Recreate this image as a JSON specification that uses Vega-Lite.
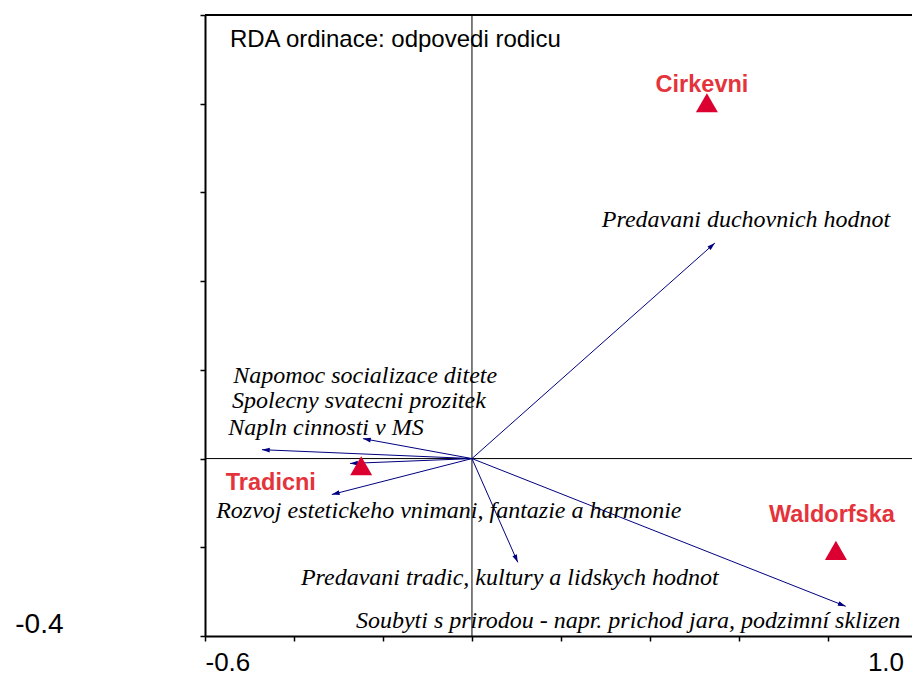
{
  "$schema": "https://vega.github.io/schema/vega-lite/v6.json",
  "width": 707,
  "height": 621,
  "autosize": {"type": "none"},
  "padding": {"left": 205, "top": 15, "right": 0, "bottom": 39},
  "background": "white",
  "config": {"view": {"stroke": null}},
  "datasets": {
    "loadings": [
      {"name": "Predavani duchovnich hodnot", "x": 0.546, "y": 0.486, "lx": 0.616, "ly": 0.523},
      {"name": "Napomoc socializace ditete", "x": -0.274, "y": -0.011, "lx": -0.240, "ly": 0.171},
      {"name": "Spolecny svatecni prozitek", "x": -0.245, "y": 0.045, "lx": -0.254, "ly": 0.113},
      {"name": "Napln cinnosti v MS", "x": -0.472, "y": 0.020, "lx": -0.328, "ly": 0.054},
      {"name": "Rozvoj estetickeho vnimani, fantazie a harmonie", "x": -0.315, "y": -0.081, "lx": -0.052, "ly": -0.133},
      {"name": "Predavani tradic, kultury a lidskych hodnot", "x": 0.103, "y": -0.234, "lx": 0.085, "ly": -0.284},
      {"name": "Soubyti s prirodou - napr. prichod jara, podzimní sklizen", "x": 0.840, "y": -0.333, "lx": 0.351, "ly": -0.381}
    ],
    "centroids": [
      {"name": "Cirkevni", "x": 0.528, "y": 0.802, "lx": 0.517, "ly": 0.827},
      {"name": "Tradicni", "x": -0.249, "y": -0.016, "lx": -0.452, "ly": -0.070},
      {"name": "Waldorfska", "x": 0.818, "y": -0.207, "lx": 0.809, "ly": -0.144}
    ],
    "one": [{"title": "RDA ordinace: odpovedi rodicu"}]
  },
  "encoding": {
    "x": {
      "type": "quantitative",
      "scale": {"domain": [-0.6, 0.989], "nice": false, "zero": false},
      "axis": {
        "title": null,
        "grid": false,
        "values": [-0.6, -0.4, -0.2, 0, 0.2, 0.4, 0.6, 0.8, 0.97],
        "labelExpr": "datum.value < -0.5 ? '-0.6' : datum.value > 0.9 ? '1.0' : ''",
        "labelAlign": {"condition": {"test": "datum.value > 0.9", "value": "right"}, "value": "left"},
        "tickOpacity": {"condition": {"test": "datum.value > 0.9", "value": 0}, "value": 1},
        "labelFlush": false,
        "labelOverlap": false,
        "labelBound": false,
        "labelBaseline": "alphabetic",
        "domainColor": "black",
        "domainWidth": 2,
        "tickColor": "black",
        "tickWidth": 1.5,
        "tickSize": 5,
        "labelFont": "Liberation Sans",
        "labelFontSize": 26,
        "labelColor": "black",
        "labelPadding": 29
      }
    },
    "y": {
      "type": "quantitative",
      "scale": {"domain": [-0.4, 1.0], "nice": false, "zero": false},
      "axis": {
        "title": null,
        "grid": false,
        "values": [-0.4, -0.2, 0, 0.2, 0.4, 0.6, 0.8, 1.0],
        "labelExpr": "datum.value < -0.3 ? '-0.4' : ''",
        "labelFlush": false,
        "labelOverlap": false,
        "labelBound": false,
        "labelBaseline": "alphabetic",
        "labelOffset": -4,
        "domainColor": "black",
        "domainWidth": 2,
        "tickColor": "black",
        "tickWidth": 1.5,
        "tickSize": 5,
        "labelFont": "Liberation Sans",
        "labelFontSize": 28,
        "labelColor": "black",
        "labelPadding": 137
      }
    }
  },
  "layer": [
    {
      "data": {"name": "one"},
      "mark": {"type": "rule", "color": "black", "strokeWidth": 2},
      "encoding": {"y": {"datum": 1.0}}
    },
    {
      "data": {"name": "one"},
      "mark": {"type": "rule", "color": "black", "strokeWidth": 1},
      "encoding": {"x": {"datum": 0}}
    },
    {
      "data": {"name": "one"},
      "mark": {"type": "rule", "color": "black", "strokeWidth": 1},
      "encoding": {"y": {"datum": 0}}
    },
    {
      "data": {"name": "loadings"},
      "mark": {"type": "rule", "color": "#000080", "strokeWidth": 1},
      "encoding": {
        "x": {"field": "x"},
        "y": {"field": "y"},
        "x2": {"datum": 0},
        "y2": {"datum": 0}
      }
    },
    {
      "data": {"name": "loadings"},
      "transform": [{"calculate": "atan2(datum.x, datum.y) * 180 / PI", "as": "ang"}],
      "mark": {"type": "point", "filled": true, "opacity": 1, "color": "#000080", "shape": "M0,0L-0.8,2.6L0.8,2.6Z", "size": 36},
      "encoding": {
        "x": {"field": "x"},
        "y": {"field": "y"},
        "angle": {"field": "ang", "type": "quantitative", "scale": null}
      }
    },
    {
      "data": {"name": "centroids"},
      "mark": {"type": "point", "filled": true, "opacity": 1, "color": "#DC0030", "shape": "triangle-up", "size": 484},
      "encoding": {
        "x": {"field": "x"},
        "y": {"field": "y"}
      }
    },
    {
      "data": {"name": "centroids"},
      "mark": {"type": "text", "font": "Liberation Sans", "fontWeight": "bold", "fontSize": 23.5, "color": "#E5333B", "align": "center", "baseline": "alphabetic"},
      "encoding": {
        "x": {"field": "lx"},
        "y": {"field": "ly"},
        "text": {"field": "name"}
      }
    },
    {
      "data": {"name": "loadings"},
      "mark": {"type": "text", "font": "Liberation Serif", "fontStyle": "italic", "fontSize": 24, "color": "black", "align": "center", "baseline": "alphabetic"},
      "encoding": {
        "x": {"field": "lx"},
        "y": {"field": "ly"},
        "text": {"field": "name"}
      }
    },
    {
      "data": {"name": "one"},
      "mark": {"type": "text", "font": "Liberation Sans", "fontSize": 24, "color": "black", "align": "left", "baseline": "alphabetic"},
      "encoding": {
        "x": {"datum": -0.544},
        "y": {"datum": 0.928},
        "text": {"field": "title"}
      }
    }
  ]
}
